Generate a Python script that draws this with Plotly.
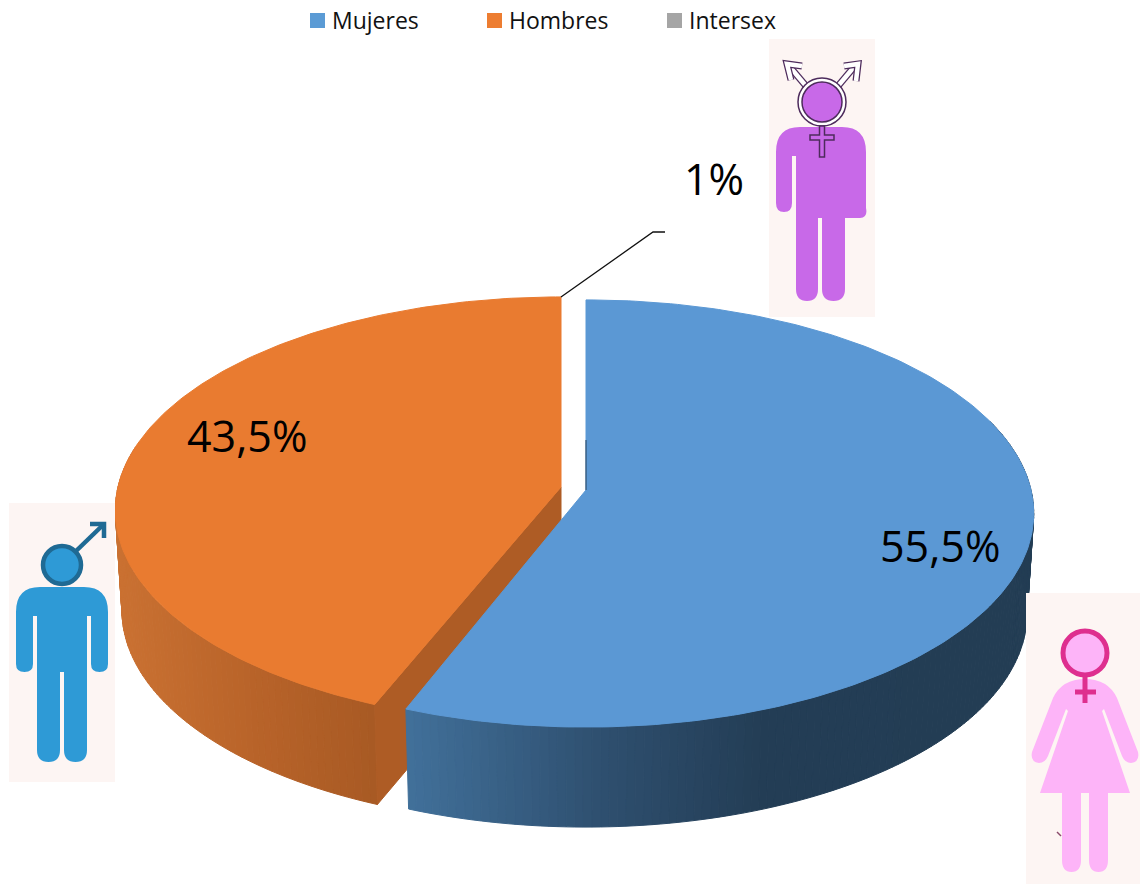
import numpy as np
import plotly.graph_objects as go

# Datos del grafico
categorias = ['Mujeres', 'Hombres', 'Intersex']
porcentajes = [55.5, 43.5, 1]
etiquetas = ['55,5%', '43,5%', '1%']
colores = ['#5B9BD5', '#ED7D31', '#A5A5A5']

FONT = 'Open Sans'
TOPE_AZUL = '#5B98D4'
TOPE_NARANJA = '#E97B30'
FONDO_ICONO = '#FDF5F3'

# Proyeccion del disco en perspectiva (en pixeles de la imagen)
A, B, K = 445, 211, 0.11
GROSOR = 100
ESCALA_BASE = 0.985
# la perspectiva del original abre un poco las porciones hacia el frente
AJUSTE_M, AJUSTE_H = 1.5, -1.2


def borde(cx, cy, grados, base=False, a=A):
    t = np.radians(grados)
    u, v = np.sin(t), -np.cos(t)
    d = 1 - K * v
    x, y = a * u / d, B * v / d
    if base:
        return cx + x * ESCALA_BASE, cy + y + GROSOR
    return cx + x, cy + y


def poligono(x, y, color, line=None):
    return go.Scatter(x=list(x), y=list(y), mode='lines', fill='toself', fillcolor=color,
                      line=dict(color=line or color, width=1), hoverinfo='skip', showlegend=False)


def rgb(x, xs, cs):
    c = [int(np.interp(x, xs, [p[i] for p in cs])) for i in range(3)]
    return 'rgb(%d,%d,%d)' % tuple(c)


def lateral(cx, cy, a0, a1, xs, cs, a=A):
    out = []
    angulos = np.arange(a0, a1, 1 if a1 > a0 else -1)
    for p, q in zip(angulos[:-1], angulos[1:]):
        x1, y1 = borde(cx, cy, p, a=a)
        x2, y2 = borde(cx, cy, q, a=a)
        x3, y3 = borde(cx, cy, q, True, a=a)
        x4, y4 = borde(cx, cy, p, True, a=a)
        out.append(poligono([x1, x2, x3, x4, x1], [y1, y2, y3, y4, y1], rgb((x1 + x2) / 2, xs, cs)))
    return out


def sector(cx, cy, a0, a1, color, a=A):
    ang = np.linspace(a0, a1, 200)
    x, y = borde(cx, cy, ang, a=a)
    return poligono(np.r_[cx, x, cx], np.r_[cy, y, cy], color)


# angulos a partir de los porcentajes
fin_mujeres = porcentajes[0] * 3.6 + AJUSTE_M
ini_hombres = 360 - porcentajes[1] * 3.6 + AJUSTE_H
cx_h, cy_h = 561, 487
cx_m, cy_m = 586, 490
A_H = 443

fig = go.Figure()

# Hombres
fig.add_traces(lateral(cx_h, cy_h, ini_hombres, 282, [120, 250, 378],
                       [(202, 113, 50), (185, 100, 42), (168, 90, 36)], a=A_H))
xe, ye = borde(cx_h, cy_h, ini_hombres, a=A_H)
xb, yb = borde(cx_h, cy_h, ini_hombres, True, a=A_H)
fig.add_trace(poligono([cx_h, xe, xb, cx_h, cx_h], [cy_h, ye, yb, cy_h + GROSOR, cy_h], '#AE5C25'))
fig.add_trace(sector(cx_h, cy_h, ini_hombres, 360, TOPE_NARANJA, a=A_H))

# Mujeres
fig.add_traces(lateral(cx_m, cy_m, fin_mujeres, 70, [405, 600, 760, 1030],
                       [(66, 113, 155), (47, 80, 112), (36, 62, 86), (35, 61, 84)]))
fig.add_trace(sector(cx_m, cy_m, 0, fin_mujeres, TOPE_AZUL))

# Linea guia del 1%
fig.add_trace(go.Scatter(x=[561, 653, 665], y=[297, 232, 232], mode='lines',
                         line=dict(color='#111111', width=1.3), hoverinfo='skip', showlegend=False))
fig.add_trace(go.Scatter(x=[586, 586], y=[440, 490], mode='lines',
                         line=dict(color='#27435C', width=1), hoverinfo='skip', showlegend=False))

# Leyenda
for xm, cat, col in zip([317.5, 494.5, 674.5], categorias, colores):
    fig.add_trace(go.Scatter(x=[xm], y=[20.5], mode='markers', hoverinfo='skip', showlegend=False,
                             marker=dict(symbol='square', size=15, color=col)))
    fig.add_annotation(x=xm + 12, y=20, text=cat, showarrow=False, xanchor='left', yanchor='middle',
                       font=dict(family=FONT, size=23, color='#111111'))

for xt, yt, txt in zip([940, 247, 714], [545, 435, 178], etiquetas):
    fig.add_annotation(x=xt, y=yt, text=txt, showarrow=False, font=dict(family=FONT, size=43, color='#000000'))

# Iconos
formas = []


def forma(path, fill, line=None, width=0):
    formas.append(dict(type='path', path=path, fillcolor=fill, layer='above',
                       line=dict(color=line or fill, width=width)))


def circulo(cx, cy, r, fill, line=None, width=0):
    formas.append(dict(type='circle', x0=cx - r, x1=cx + r, y0=cy - r, y1=cy + r, fillcolor=fill,
                       layer='above', line=dict(color=line or fill, width=width)))


def fondo(x0, y0, x1, y1):
    formas.append(dict(type='rect', x0=x0, x1=x1, y0=y0, y1=y1, fillcolor=FONDO_ICONO, layer='above',
                       line=dict(width=0)))


# hombre
AZUL_I, AZUL_O = '#2E9AD6', '#1F6A94'
fondo(9, 503, 115, 782)
forma('M40,587 L84,587 Q108,587 108,612 L108,664 Q108,672 99.5,672 Q91,672 91,664 L91,616 L87,616 '
      'L87,750 Q87,762 75.5,762 Q64,762 64,750 L64,672 L60,672 L60,750 Q60,762 48.5,762 Q37,762 37,750 '
      'L37,616 L33,616 L33,664 Q33,672 24.5,672 Q16,672 16,664 L16,612 Q16,587 40,587 Z', AZUL_I)
forma('M75,552 L104,524', 'rgba(0,0,0,0)', AZUL_O, 4.5)
forma('M90,524 L104,524 L104,538', 'rgba(0,0,0,0)', AZUL_O, 4.5)
circulo(62, 565, 19, AZUL_I, AZUL_O, 4.5)

# intersex
LILA, LILA_O = '#C869E8', '#4D2B5C'
fondo(769, 39, 875, 317)
forma('M800,127 L842,127 Q866,127 866,152 L866,208 Q868,218 860,218 L845,218 L845,289 Q845,301 833.5,301 '
      'Q822,301 822,289 L822,218 L818,218 L818,289 Q818,301 807,301 Q796,301 796,289 L796,156 L792,156 '
      'L792,203 Q792,212 784,212 Q776,212 776,203 L776,152 Q776,127 800,127 Z', LILA)
for flecha in ['M806,86 L790,67', 'M838,86 L854,67']:
    forma(flecha, 'rgba(0,0,0,0)', LILA_O, 7)
    forma(flecha, 'rgba(0,0,0,0)', '#FFFFFF', 4.5)
for punta in ['M791,80 L787,64 L802,66', 'M844,66 L858,64 L856,81']:
    forma(punta, 'rgba(0,0,0,0)', LILA_O, 7)
    forma(punta, 'rgba(0,0,0,0)', '#FFFFFF', 4.5)
circulo(822, 102, 24, '#FFFFFF', LILA_O, 1.5)
circulo(822, 102, 20, LILA, LILA_O, 1.5)
forma('M819.5,126 L824.5,126 L824.5,135 L834,135 L834,140 L824.5,140 L824.5,157 L819.5,157 L819.5,140 '
      'L810,140 L810,135 L819.5,135 Z', LILA, LILA_O, 1.5)

# mujer
ROSA, ROSA_O = '#FDB4F8', '#DE2F8F'
fondo(1026, 593, 1140, 884)
forma('M1085,679 Q1108,679 1117,698 L1138,752 Q1140,762 1131,763 Q1125,763 1122,756 L1104,709 L1102,711 '
      'L1130,793 L1108,793 L1108,860 Q1108,872 1098.5,872 Q1089,872 1089,860 L1089,793 L1081,793 L1081,860 '
      'Q1081,872 1071.5,872 Q1062,872 1062,860 L1062,793 L1040,793 L1068,711 L1066,709 L1048,756 '
      'Q1045,763 1039,763 Q1030,762 1032,752 L1053,698 Q1062,679 1085,679 Z', ROSA)
circulo(1085, 653, 22, ROSA, ROSA_O, 5)
forma('M1085,676 L1085,703', 'rgba(0,0,0,0)', ROSA_O, 5)
forma('M1075,692 L1096,692', 'rgba(0,0,0,0)', ROSA_O, 5)
forma('M1057,832 L1061,836', 'rgba(0,0,0,0)', '#8A4A6A', 1.5)

fig.update_layout(width=1140, height=884, margin=dict(l=0, r=0, t=0, b=0), paper_bgcolor='white',
                  plot_bgcolor='white', showlegend=False, shapes=formas,
                  xaxis=dict(range=[0, 1140], visible=False, fixedrange=True),
                  yaxis=dict(range=[884, 0], visible=False, fixedrange=True))

# el navegador deja 8 px de margen en el body
fig.write_html('out.html', config={'displayModeBar': False},
               post_script="document.body.style.margin='0';document.body.style.overflow='hidden';")
